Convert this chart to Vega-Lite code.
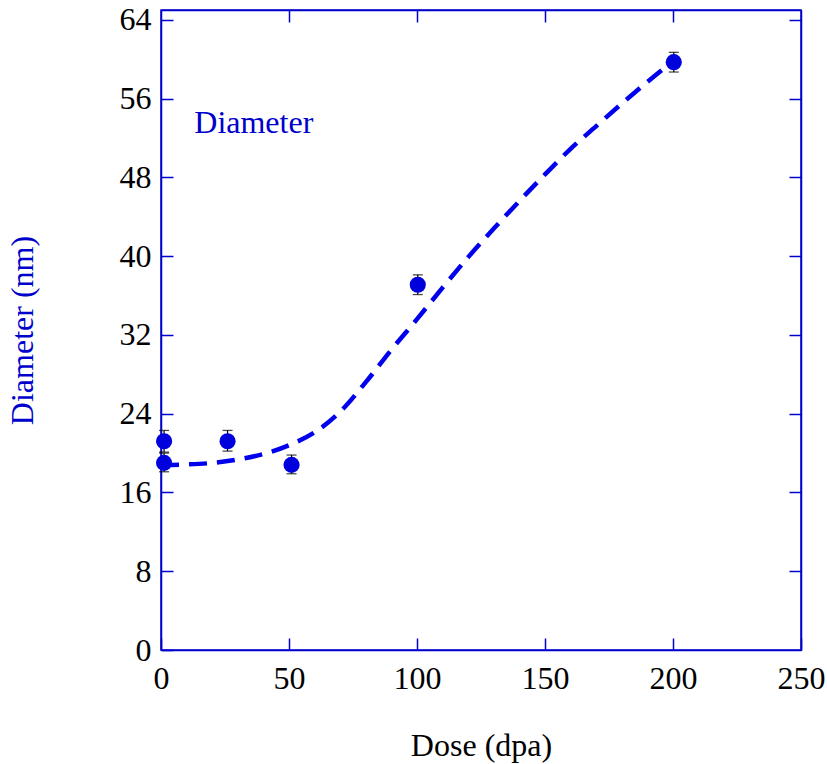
{
  "$schema": "https://vega.github.io/schema/vega-lite/v6.json",
  "autosize": "none",
  "width": 640,
  "height": 640,
  "padding": {"left": 161, "top": 10, "right": 26, "bottom": 114},
  "background": "white",
  "config": {
    "view": {"stroke": "#0000cc", "strokeWidth": 1.5},
    "font": "Liberation Serif",
    "axis": {
      "grid": false,
      "domainColor": "#0000cc",
      "domainWidth": 1.5,
      "tickColor": "#0000cc",
      "tickWidth": 1.5,
      "tickSize": -12,
      "labelFont": "Liberation Serif",
      "labelFontSize": 32,
      "labelColor": "black",
      "titleFont": "Liberation Serif",
      "titleFontSize": 32,
      "titleFontWeight": "normal"
    }
  },
  "datasets": {
    "pts": [
      {"dose": 1.2, "diam": 21.2, "lo": 20.1, "hi": 22.3},
      {"dose": 1.2, "diam": 19.0, "lo": 18.1, "hi": 20.0},
      {"dose": 26, "diam": 21.2, "lo": 20.2, "hi": 22.3},
      {"dose": 51, "diam": 18.8, "lo": 17.9, "hi": 19.8},
      {"dose": 100.3, "diam": 37.1, "lo": 36.1, "hi": 38.1},
      {"dose": 200.3, "diam": 59.7, "lo": 58.7, "hi": 60.7}
    ],
    "fit": [
      {"dose": 0, "diam": 18.8},
      {"dose": 10, "diam": 18.85},
      {"dose": 20, "diam": 19.0},
      {"dose": 30, "diam": 19.35},
      {"dose": 40, "diam": 19.9},
      {"dose": 50, "diam": 20.8},
      {"dose": 60, "diam": 22.1},
      {"dose": 70, "diam": 24.2},
      {"dose": 80, "diam": 27.2},
      {"dose": 90, "diam": 30.5},
      {"dose": 100, "diam": 33.6},
      {"dose": 110, "diam": 36.8},
      {"dose": 120, "diam": 39.9},
      {"dose": 130, "diam": 42.8},
      {"dose": 140, "diam": 45.6},
      {"dose": 150, "diam": 48.3},
      {"dose": 160, "diam": 50.9},
      {"dose": 170, "diam": 53.2},
      {"dose": 180, "diam": 55.5},
      {"dose": 190, "diam": 57.7},
      {"dose": 200, "diam": 59.8}
    ],
    "label": [{"dose": 13, "diam": 53.5, "text": "Diameter"}]
  },
  "resolve": {"axis": {"x": "independent", "y": "independent"}},
  "layer": [
    {
      "data": {"name": "fit"},
      "mark": {"type": "line", "color": "#0000ee", "strokeWidth": 4.5, "strokeDash": [18, 10], "interpolate": "monotone"},
      "encoding": {
        "x": {"field": "dose", "type": "quantitative", "scale": {"domain": [0, 250], "nice": false, "zero": false},
          "axis": {"orient": "bottom", "title": "Dose (dpa)", "titleColor": "black", "values": [0, 50, 100, 150, 200, 250], "labelPadding": 25, "titlePadding": 36, "labelFlush": false}},
        "y": {"field": "diam", "type": "quantitative", "scale": {"domain": [0, 65], "nice": false, "zero": false},
          "axis": {"orient": "left", "title": "Diameter (nm)", "titleColor": "#0000cc", "values": [0, 8, 16, 24, 32, 40, 48, 56, 64], "labelPadding": 22, "titlePadding": 80, "labelFlush": false}}
      }
    },
    {
      "data": {"name": "pts"},
      "mark": {"type": "rule", "color": "black", "strokeWidth": 1.2},
      "encoding": {
        "x": {"field": "dose", "type": "quantitative", "axis": {"orient": "top", "values": [50, 100, 150, 200], "labels": false, "title": null, "domain": true}},
        "y": {"field": "lo", "type": "quantitative", "axis": {"orient": "right", "values": [8, 16, 24, 32, 40, 48, 56, 64], "labels": false, "title": null}},
        "y2": {"field": "hi"}
      }
    },
    {
      "data": {"name": "pts"},
      "mark": {"type": "tick", "color": "black", "orient": "horizontal", "size": 10, "thickness": 1.3},
      "encoding": {
        "x": {"field": "dose", "type": "quantitative", "axis": null},
        "y": {"field": "lo", "type": "quantitative", "axis": null}
      }
    },
    {
      "data": {"name": "pts"},
      "mark": {"type": "tick", "color": "black", "orient": "horizontal", "size": 10, "thickness": 1.3},
      "encoding": {
        "x": {"field": "dose", "type": "quantitative", "axis": null},
        "y": {"field": "hi", "type": "quantitative", "axis": null}
      }
    },
    {
      "data": {"name": "pts"},
      "mark": {"type": "point", "shape": "circle", "filled": true, "color": "#0000dd", "opacity": 1, "size": 260},
      "encoding": {
        "x": {"field": "dose", "type": "quantitative", "axis": null},
        "y": {"field": "diam", "type": "quantitative", "axis": null}
      }
    },
    {
      "data": {"name": "label"},
      "mark": {"type": "text", "color": "#0000cc", "font": "Liberation Serif", "fontSize": 32, "align": "left", "baseline": "middle"},
      "encoding": {
        "x": {"field": "dose", "type": "quantitative", "axis": null},
        "y": {"field": "diam", "type": "quantitative", "axis": null},
        "text": {"field": "text"}
      }
    }
  ]
}
